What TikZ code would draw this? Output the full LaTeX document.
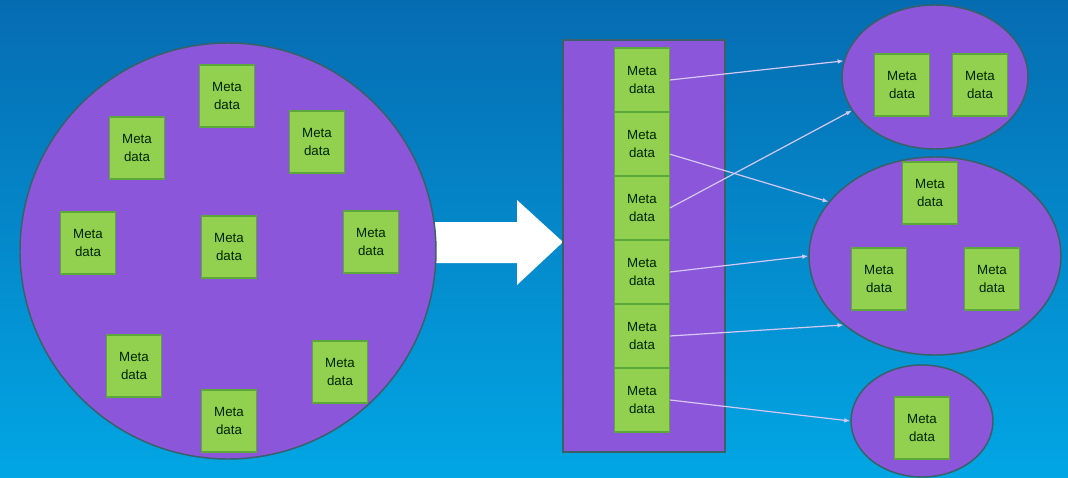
\documentclass[tikz,border=0pt]{standalone}
\usepackage{fontspec}
\setmainfont{Liberation Sans}
\usepackage{xcolor}
\usepackage{tikz}
\usetikzlibrary{shapes.geometric,arrows.meta}

\definecolor{bgtop}{RGB}{6,108,178}
\definecolor{bgbot}{RGB}{2,166,228}
\definecolor{grape}{RGB}{139,86,218}
\definecolor{leaf}{RGB}{146,208,80}
\definecolor{leafline}{RGB}{92,168,58}
\definecolor{rim}{RGB}{58,96,104}
\definecolor{lilac}{RGB}{214,200,242}

\tikzset{
  metabox/.style={draw=leafline, fill=leaf, line width=0.8pt, inner sep=0pt,
    minimum width=41pt, minimum height=46.5pt, align=center,
    font=\fontsize{10}{13.5}\selectfont, text=black!85!green},
  stackbox/.style={metabox, minimum height=48pt},
  pool/.style={draw=rim, fill=grape, line width=1.1pt, inner sep=0pt},
  link/.style={draw=lilac, line width=0.9pt, -{Latex[length=4.5pt,width=3.5pt,fill=white]}},
}

\begin{document}
\begin{tikzpicture}[x=0.75pt,y=-0.75pt]
      \shade[top color=bgtop, bottom color=bgbot] (0,0) rectangle (1068,478);
      \useasboundingbox (0,0) rectangle (1068,478);

      % big white arrow
      \fill[white] (433,222) -- (517,222) -- (517,200) -- (563,242) -- (517,285)
        -- (517,263) -- (433,263) -- cycle;

      % unsorted pool
      \node[pool, circle, minimum size=312pt] (all) at (228,251) {};
      \node[metabox] (a1) at (227,96) {Meta\\data};
      \node[metabox] (a2) at (137,148) {Meta\\data};
      \node[metabox] (a3) at (317,142) {Meta\\data};
      \node[metabox] (a4) at (88,243) {Meta\\data};
      \node[metabox] (a5) at (229,247) {Meta\\data};
      \node[metabox] (a6) at (371,242) {Meta\\data};
      \node[metabox] (a7) at (134,366) {Meta\\data};
      \node[metabox] (a8) at (340,372) {Meta\\data};
      \node[metabox] (a9) at (229,421) {Meta\\data};

      % sorted stack
      \node[pool, rectangle, minimum width=121.5pt, minimum height=309pt] (stack) at (644,246) {};
      \node[stackbox] (s1) at (642,80) {Meta\\data};
      \node[stackbox] (s2) at (642,144) {Meta\\data};
      \node[stackbox] (s3) at (642,208) {Meta\\data};
      \node[stackbox] (s4) at (642,272) {Meta\\data};
      \node[stackbox] (s5) at (642,336) {Meta\\data};
      \node[stackbox] (s6) at (642,400) {Meta\\data};

      % groups
      \node[pool, ellipse, minimum width=139.5pt, minimum height=108pt] (g1) at (935,77) {};
      \node[pool, ellipse, minimum width=189pt, minimum height=148.5pt] (g2) at (935,256) {};
      \node[pool, ellipse, minimum width=106.5pt, minimum height=84pt] (g3) at (922,421) {};
      \node[metabox] (b1) at (902,85) {Meta\\data};
      \node[metabox] (b2) at (980,85) {Meta\\data};
      \node[metabox] (c1) at (930,193) {Meta\\data};
      \node[metabox] (c2) at (879,279) {Meta\\data};
      \node[metabox] (c3) at (992,279) {Meta\\data};
      \node[metabox] (d1) at (922,428) {Meta\\data};

      \draw[link] (s1.east) -- (g1.170);
      \draw[link] (s2.-20) -- (g2.153);
      \draw[link] (s3.east) -- (g1.202);
      \draw[link] (s4.east) -- (g2.west);
      \draw[link] (s5.east) -- (g2.217);
      \draw[link] (s6.east) -- (g3.west);

    \end{tikzpicture}
\end{document}
